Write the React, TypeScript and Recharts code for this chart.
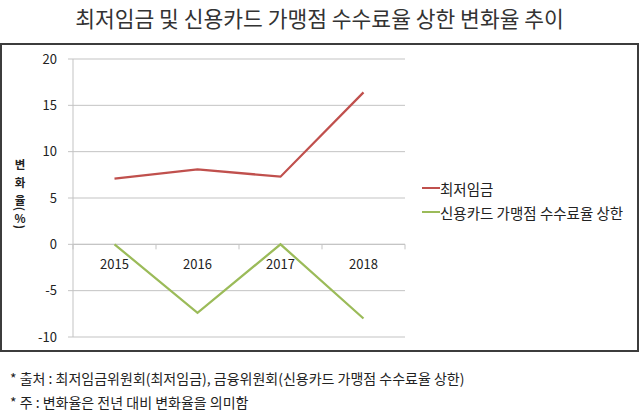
import { LineChart, Line, XAxis, YAxis, CartesianGrid, Legend, ReferenceLine } from 'recharts';

// 연도별 변화율(%) — 그림에서 읽은 값
const years = ['2015', '2016', '2017', '2018'];
const minWage = [7.1, 8.1, 7.3, 16.4];
const cardFeeCap = [0, -7.4, 0, -8.0];
const yTicks = [-10, -5, 0, 5, 10, 15, 20];
const seriesNames = ['최저임금', '신용카드 가맹점 수수료율 상한'];

const title = '최저임금 및 신용카드 가맹점 수수료율 상한 변화율 추이';
const yLabel = '변화율(%)';
const footnotes = [
  '* 출처 : 최저임금위원회(최저임금), 금융위원회(신용카드 가맹점 수수료율 상한)',
  '* 주 : 변화율은 전년 대비 변화율을 의미함',
];

const FONT = '"Noto Sans CJK KR", "Noto Sans", sans-serif';
const RED = '#C0504D';
const GREEN = '#9BBB59';
const GRID = '#c3c3c3';

const CHART_W = 635;
const CHART_H = 305;
const X_AXIS_H = 1; // 0이면 recharts가 축을 아예 안 그림
const MARGIN = { top: 14, right: 232, bottom: 13 - X_AXIS_H, left: 0 };
const Y_AXIS_W = 71;
const PLOT_H = CHART_H - MARGIN.top - MARGIN.bottom - X_AXIS_H;
const PLOT_W = CHART_W - MARGIN.left - MARGIN.right - Y_AXIS_W;
const BAND = PLOT_W / years.length;
const Y_MIN = yTicks[0];
const Y_MAX = yTicks[yTicks.length - 1];
// x축은 0 위치에 있으므로 plot 아래쪽에서 0까지의 거리
const ZERO_OFFSET = (PLOT_H * (0 - Y_MIN)) / (Y_MAX - Y_MIN);

const data = years.map((year, i) => ({
  year,
  [seriesNames[0]]: minWage[i],
  [seriesNames[1]]: cardFeeCap[i],
}));

function CategoryTick(props: any) {
  const { x, y, payload, index } = props;
  const zy = y - ZERO_OFFSET;
  const last = index === years.length - 1;
  return (
    <g>
      <line x1={x - BAND / 2} x2={x - BAND / 2} y1={zy} y2={zy + 5} stroke={GRID} />
      {last && <line x1={x + BAND / 2} x2={x + BAND / 2} y1={zy} y2={zy + 5} stroke={GRID} />}
      <text x={x} y={zy + 25} textAnchor="middle" fontSize={13} fill="#222" fontFamily={FONT}>
        {payload.value}
      </text>
    </g>
  );
}

// 세로 축 제목: 한 글자씩 세로로, 괄호는 90도 회전
function VerticalLabel() {
  const chars = Array.from(yLabel);
  const cx = 18;
  let cy = 119;
  return (
    <g>
      {chars.map((ch, i) => {
        const paren = ch === '(' || ch === ')';
        if (i > 0) {
          const prevParen = chars[i - 1] === '(' || chars[i - 1] === ')';
          cy += paren || prevParen ? 9 : 18;
        }
        return (
          <text
            key={i}
            x={cx}
            y={cy}
            textAnchor="middle"
            dominantBaseline="central"
            fontSize={11.5}
            fontWeight={700}
            fill="#222"
            fontFamily={FONT}
            transform={paren ? `rotate(90 ${cx} ${cy})` : undefined}
          >
            {ch}
          </text>
        );
      })}
    </g>
  );
}

function LegendBox(props: any) {
  const items = [...(props.payload || [])].sort(
    (a: any, b: any) => seriesNames.indexOf(a.value) - seriesNames.indexOf(b.value),
  );
  return (
    <div style={{ fontFamily: FONT, fontSize: 14.5, color: '#222' }}>
      {items.map((p: any) => (
        <div key={p.value} style={{ display: 'flex', alignItems: 'center', height: 24 }}>
          <span style={{ display: 'inline-block', width: 18, height: 2, background: p.color }} />
          <span style={{ whiteSpace: 'nowrap' }}>{p.value}</span>
        </div>
      ))}
    </div>
  );
}

export default function App() {
  return (
    <div
      style={{
        position: 'absolute',
        left: 0,
        top: 0,
        width: 639,
        height: 413,
        background: '#fff',
        fontFamily: FONT,
        color: '#222',
      }}
    >
      <div
        style={{
          position: 'absolute',
          top: 4,
          left: 0,
          width: 639,
          textAlign: 'center',
          fontSize: 21.5,
          lineHeight: '28px',
          color: '#333',
        }}
      >
        {title}
      </div>
      <div
        style={{
          position: 'absolute',
          left: 0,
          top: 43,
          width: 639,
          height: 309,
          boxSizing: 'border-box',
          border: '2px solid #3c3c3c',
        }}
      >
        <LineChart width={CHART_W} height={CHART_H} data={data} margin={MARGIN}>
          <CartesianGrid vertical={false} stroke={GRID} />
          <XAxis
            dataKey="year"
            height={X_AXIS_H}
            padding={{ left: BAND / 2, right: BAND / 2 }}
            axisLine={false}
            tickLine={false}
            tickSize={0}
            tickMargin={0}
            interval={0}
            tick={<CategoryTick />}
          />
          <YAxis
            width={Y_AXIS_W}
            domain={[Y_MIN, Y_MAX]}
            ticks={yTicks}
            interval={0}
            axisLine={{ stroke: GRID }}
            tickLine={{ stroke: GRID }}
            tickSize={5}
            tickMargin={11}
            tick={{ fontSize: 13, fill: '#222', fontFamily: FONT }}
            label={<VerticalLabel />}
          />
          <ReferenceLine y={0} stroke={GRID} />
          <Legend
            layout="vertical"
            content={<LegendBox />}
            wrapperStyle={{
              position: 'absolute',
              left: 420,
              top: 131,
              width: 215,
              height: 0,
              overflow: 'visible',
            }}
          />
          {seriesNames.map((name, i) => (
            <Line
              key={name}
              type="linear"
              dataKey={name}
              stroke={i === 0 ? RED : GREEN}
              strokeWidth={2.25}
              dot={false}
              isAnimationActive={false}
            />
          ))}
        </LineChart>
      </div>
      {footnotes.map((t, i) => (
        <div
          key={i}
          style={{
            position: 'absolute',
            left: 10,
            top: 368 + i * 24,
            fontSize: 14,
            lineHeight: '20px',
            whiteSpace: 'nowrap',
          }}
        >
          {t}
        </div>
      ))}
    </div>
  );
}
